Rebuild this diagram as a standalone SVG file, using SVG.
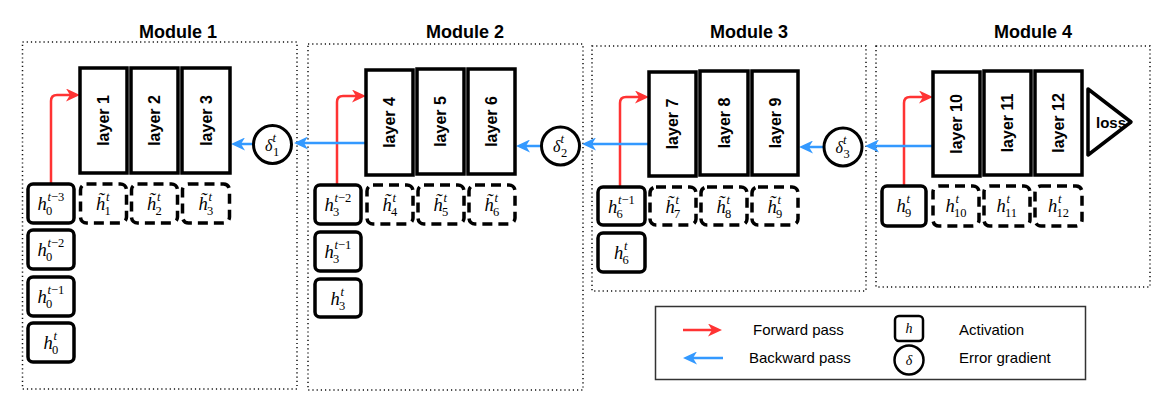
<svg xmlns="http://www.w3.org/2000/svg" width="1174" height="413" viewBox="0 0 1174 413">
<defs>
<style>
.mod{fill:none;stroke:#111;stroke-width:1.5;stroke-dasharray:1.2 3}
.title{font-family:"Liberation Sans",Arial,sans-serif;font-weight:bold;font-size:18px;text-anchor:middle;fill:#000}
.layer{fill:#fff;stroke:#000;stroke-width:3.5}
.lt{font-family:"Liberation Sans",Arial,sans-serif;font-weight:bold;font-size:16px;text-anchor:middle;dominant-baseline:central;fill:#000}
.hb{fill:#fff;stroke:#000;stroke-width:3.5}
.hd{fill:#fff;stroke:#000;stroke-width:3.5;stroke-dasharray:10 6}
.m{font-family:"Liberation Serif","Times New Roman",serif;font-style:italic;font-size:18.5px;fill:#000}
.s{font-family:"Liberation Serif","Times New Roman",serif;font-size:12.5px;fill:#000}
.i{font-style:italic}
.cir{fill:#fff;stroke:#000;stroke-width:3}
.fw{fill:none;stroke:#FF3333;stroke-width:2.5}
.bw{fill:none;stroke:#3399FF;stroke-width:2.5}
.leg{font-family:"Liberation Sans",Arial,sans-serif;font-size:15px;fill:#000}
</style>
<marker id="ar" markerUnits="userSpaceOnUse" markerWidth="14" markerHeight="13" refX="10" refY="6.5" orient="auto">
<path d="M0,0 L14,6.5 L0,13 L4,6.5 Z" fill="#FF3333"/>
</marker>
<marker id="ab" markerUnits="userSpaceOnUse" markerWidth="14" markerHeight="13" refX="10" refY="6.5" orient="auto">
<path d="M0,0 L14,6.5 L0,13 L4,6.5 Z" fill="#3399FF"/>
</marker>
</defs>
<rect width="1174" height="413" fill="#fff"/>

<!-- module frames -->
<g id="module1">
<rect class="mod" x="22.5" y="42" width="274.5" height="347"/>
<text class="title" x="178" y="37.5">Module 1</text>
</g>
<g id="module2">
<rect class="mod" x="308" y="44" width="275" height="346"/>
<text class="title" x="465" y="37.5">Module 2</text>
</g>
<g id="module3">
<rect class="mod" x="592" y="46" width="274" height="245"/>
<text class="title" x="749" y="37.5">Module 3</text>
</g>
<g id="module4">
<rect class="mod" x="876" y="46" width="274" height="241"/>
<text class="title" x="1033" y="37.5">Module 4</text>
</g>

<!-- connectors -->
<g id="connectors">
<path class="fw" d="M51,184 V101 Q51,95 57,95 H76" marker-end="url(#ar)"/>
<path class="fw" d="M337,185 V102 Q337,96 343,96 H362" marker-end="url(#ar)"/>
<path class="fw" d="M620,187 V103 Q620,97 626,97 H645" marker-end="url(#ar)"/>
<path class="fw" d="M904,186 V103 Q904,97 910,97 H929" marker-end="url(#ar)"/>
<line class="bw" x1="254" y1="144" x2="235" y2="144" marker-end="url(#ab)"/>
<line class="bw" x1="366" y1="143" x2="298" y2="143" marker-end="url(#ab)"/>
<line class="bw" x1="541" y1="146" x2="520" y2="146" marker-end="url(#ab)"/>
<line class="bw" x1="649" y1="144" x2="586" y2="144" marker-end="url(#ab)"/>
<line class="bw" x1="823" y1="147" x2="803" y2="147" marker-end="url(#ab)"/>
<line class="bw" x1="933" y1="146" x2="869" y2="146" marker-end="url(#ab)"/>
</g>

<!-- layers -->
<g id="layer1"><rect class="layer" x="80" y="68" width="47" height="105"/><text class="lt" transform="translate(103.5,120.5) rotate(-90)">layer 1</text></g>
<g id="layer2"><rect class="layer" x="131" y="68" width="47" height="105"/><text class="lt" transform="translate(154.5,120.5) rotate(-90)">layer 2</text></g>
<g id="layer3"><rect class="layer" x="182" y="68" width="48" height="105"/><text class="lt" transform="translate(206,120.5) rotate(-90)">layer 3</text></g>
<g id="layer4"><rect class="layer" x="366" y="70" width="47" height="105"/><text class="lt" transform="translate(389.5,122.5) rotate(-90)">layer 4</text></g>
<g id="layer5"><rect class="layer" x="417" y="69" width="47" height="105"/><text class="lt" transform="translate(440.5,121.5) rotate(-90)">layer 5</text></g>
<g id="layer6"><rect class="layer" x="468" y="69" width="47" height="105"/><text class="lt" transform="translate(491.5,121.5) rotate(-90)">layer 6</text></g>
<g id="layer7"><rect class="layer" x="649" y="72" width="47" height="104"/><text class="lt" transform="translate(672.5,124) rotate(-90)">layer 7</text></g>
<g id="layer8"><rect class="layer" x="700" y="71" width="48" height="104"/><text class="lt" transform="translate(724,123) rotate(-90)">layer 8</text></g>
<g id="layer9"><rect class="layer" x="752" y="71" width="46" height="104"/><text class="lt" transform="translate(775,123) rotate(-90)">layer 9</text></g>
<g id="layer10"><rect class="layer" x="933" y="72" width="47" height="104"/><text class="lt" transform="translate(956.5,124) rotate(-90)">layer 10</text></g>
<g id="layer11"><rect class="layer" x="984" y="71" width="47" height="104"/><text class="lt" transform="translate(1007.5,123) rotate(-90)">layer 11</text></g>
<g id="layer12"><rect class="layer" x="1035" y="71" width="47" height="104"/><text class="lt" transform="translate(1058.5,123) rotate(-90)">layer 12</text></g>
<g id="loss"><path d="M1088,89 L1131,122 L1088,155 Z" fill="#fff" stroke="#000" stroke-width="3.5" stroke-linejoin="round"/><text class="lt" x="1111" y="122" style="font-size:15px">loss</text></g>

<!-- error gradients -->
<g id="delta1"><circle class="cir" cx="272.5" cy="144.5" r="19"/><text class="m" x="265" y="150.5" style="font-size:16px">δ</text><text class="s i" x="272.5" y="141.5">t</text><text class="s" x="273" y="155.5">1</text></g>
<g id="delta2"><circle class="cir" cx="560.5" cy="146" r="19"/><text class="m" x="553" y="152" style="font-size:16px">δ</text><text class="s i" x="560.5" y="143">t</text><text class="s" x="561" y="157">2</text></g>
<g id="delta3"><circle class="cir" cx="843" cy="147" r="19"/><text class="m" x="835.5" y="153" style="font-size:16px">δ</text><text class="s i" x="843" y="144">t</text><text class="s" x="843.5" y="158">3</text></g>

<!-- Module 1 activations -->
<g id="h0_tm3"><rect class="hb" x="28" y="184" width="46" height="39" rx="5"/><text class="m" x="37.5" y="210">h</text><text class="s" x="47.5" y="200.5"><tspan class="i">t</tspan>−3</text><text class="s" x="46" y="215">0</text></g>
<g id="h0_tm2"><rect class="hb" x="28" y="230" width="46" height="39" rx="5"/><text class="m" x="37.5" y="256">h</text><text class="s" x="47.5" y="246.5"><tspan class="i">t</tspan>−2</text><text class="s" x="46" y="261">0</text></g>
<g id="h0_tm1"><rect class="hb" x="28" y="277" width="46" height="39" rx="5"/><text class="m" x="37.5" y="303">h</text><text class="s" x="47.5" y="293.5"><tspan class="i">t</tspan>−1</text><text class="s" x="46" y="308">0</text></g>
<g id="h0_t"><rect class="hb" x="28" y="323" width="46" height="39" rx="5"/><text class="m" x="43.5" y="349">h</text><text class="s i" x="53.5" y="339.5">t</text><text class="s" x="52" y="354">0</text></g>
<g id="ht1"><rect class="hd" x="80.5" y="184" width="46" height="39" rx="6"/><text class="m" x="96" y="210">h̃</text><text class="s i" x="106" y="200.5">t</text><text class="s" x="104.5" y="215">1</text></g>
<g id="ht2"><rect class="hd" x="131.5" y="184" width="46" height="39" rx="6"/><text class="m" x="147" y="210">h̃</text><text class="s i" x="157" y="200.5">t</text><text class="s" x="155.5" y="215">2</text></g>
<g id="ht3"><rect class="hd" x="182.5" y="184" width="47" height="39" rx="6"/><text class="m" x="198.5" y="210">h̃</text><text class="s i" x="208.5" y="200.5">t</text><text class="s" x="207" y="215">3</text></g>

<!-- Module 2 activations -->
<g id="h3_tm2"><rect class="hb" x="315" y="185" width="46" height="39" rx="5"/><text class="m" x="324.5" y="211">h</text><text class="s" x="334.5" y="201.5"><tspan class="i">t</tspan>−2</text><text class="s" x="333" y="216">3</text></g>
<g id="h3_tm1"><rect class="hb" x="315" y="232" width="46" height="39" rx="5"/><text class="m" x="324.5" y="258">h</text><text class="s" x="334.5" y="248.5"><tspan class="i">t</tspan>−1</text><text class="s" x="333" y="263">3</text></g>
<g id="h3_t"><rect class="hb" x="315" y="279" width="46" height="38" rx="5"/><text class="m" x="330.5" y="305">h</text><text class="s i" x="340.5" y="295.5">t</text><text class="s" x="339" y="310">3</text></g>
<g id="ht4"><rect class="hd" x="367" y="185" width="46" height="39" rx="6"/><text class="m" x="382.5" y="211">h̃</text><text class="s i" x="392.5" y="201.5">t</text><text class="s" x="391" y="216">4</text></g>
<g id="ht5"><rect class="hd" x="418" y="185" width="46" height="39" rx="6"/><text class="m" x="433.5" y="211">h̃</text><text class="s i" x="443.5" y="201.5">t</text><text class="s" x="442" y="216">5</text></g>
<g id="ht6"><rect class="hd" x="469" y="185" width="46" height="39" rx="6"/><text class="m" x="484.5" y="211">h̃</text><text class="s i" x="494.5" y="201.5">t</text><text class="s" x="493" y="216">6</text></g>

<!-- Module 3 activations -->
<g id="h6_tm1"><rect class="hb" x="598" y="187" width="47" height="38" rx="5"/><text class="m" x="608" y="213">h</text><text class="s" x="618" y="203.5"><tspan class="i">t</tspan>−1</text><text class="s" x="616.5" y="218">6</text></g>
<g id="h6_t"><rect class="hb" x="598" y="233" width="47" height="39" rx="5"/><text class="m" x="614" y="259">h</text><text class="s i" x="624" y="249.5">t</text><text class="s" x="622.5" y="264">6</text></g>
<g id="ht7"><rect class="hd" x="650" y="187" width="46" height="38" rx="6"/><text class="m" x="665.5" y="213">h̃</text><text class="s i" x="675.5" y="203.5">t</text><text class="s" x="674" y="218">7</text></g>
<g id="ht8"><rect class="hd" x="701" y="187" width="46" height="38" rx="6"/><text class="m" x="716.5" y="213">h̃</text><text class="s i" x="726.5" y="203.5">t</text><text class="s" x="725" y="218">8</text></g>
<g id="ht9"><rect class="hd" x="752" y="187" width="46" height="38" rx="6"/><text class="m" x="767.5" y="213">h̃</text><text class="s i" x="777.5" y="203.5">t</text><text class="s" x="776" y="218">9</text></g>

<!-- Module 4 activations -->
<g id="h9_t"><rect class="hb" x="882" y="186" width="44" height="40" rx="5"/><text class="m" x="896.5" y="212">h</text><text class="s i" x="906.5" y="202.5">t</text><text class="s" x="905" y="217">9</text></g>
<g id="h10"><rect class="hd" x="933" y="186" width="46" height="40" rx="6"/><text class="m" x="945.5" y="212">h</text><text class="s i" x="955.5" y="202.5">t</text><text class="s" x="954" y="217">10</text></g>
<g id="h11"><rect class="hd" x="984" y="186" width="46" height="40" rx="6"/><text class="m" x="996.5" y="212">h</text><text class="s i" x="1006.5" y="202.5">t</text><text class="s" x="1005" y="217">11</text></g>
<g id="h12"><rect class="hd" x="1035" y="186" width="47" height="40" rx="6"/><text class="m" x="1048" y="212">h</text><text class="s i" x="1058" y="202.5">t</text><text class="s" x="1056.5" y="217">12</text></g>

<!-- legend -->
<g id="legend">
<rect x="655.5" y="306.5" width="430" height="73" fill="#fff" stroke="#333" stroke-width="1.5"/>
<line class="fw" x1="683" y1="330" x2="718" y2="330" stroke-width="2" marker-end="url(#ar)"/>
<line class="bw" x1="723" y1="358" x2="687" y2="358" stroke-width="2" marker-end="url(#ab)"/>
<text class="leg" x="753" y="335">Forward pass</text>
<text class="leg" x="749" y="363">Backward pass</text>
<rect x="895" y="316" width="28" height="25" rx="4" fill="#fff" stroke="#000" stroke-width="2.5"/>
<text class="m" x="909" y="333" style="font-size:14px" text-anchor="middle">h</text>
<circle cx="909" cy="360" r="14.5" fill="#fff" stroke="#000" stroke-width="2.5"/>
<text class="m" x="909" y="365" style="font-size:14px" text-anchor="middle">δ</text>
<text class="leg" x="959" y="335">Activation</text>
<text class="leg" x="959" y="363">Error gradient</text>
</g>
</svg>
